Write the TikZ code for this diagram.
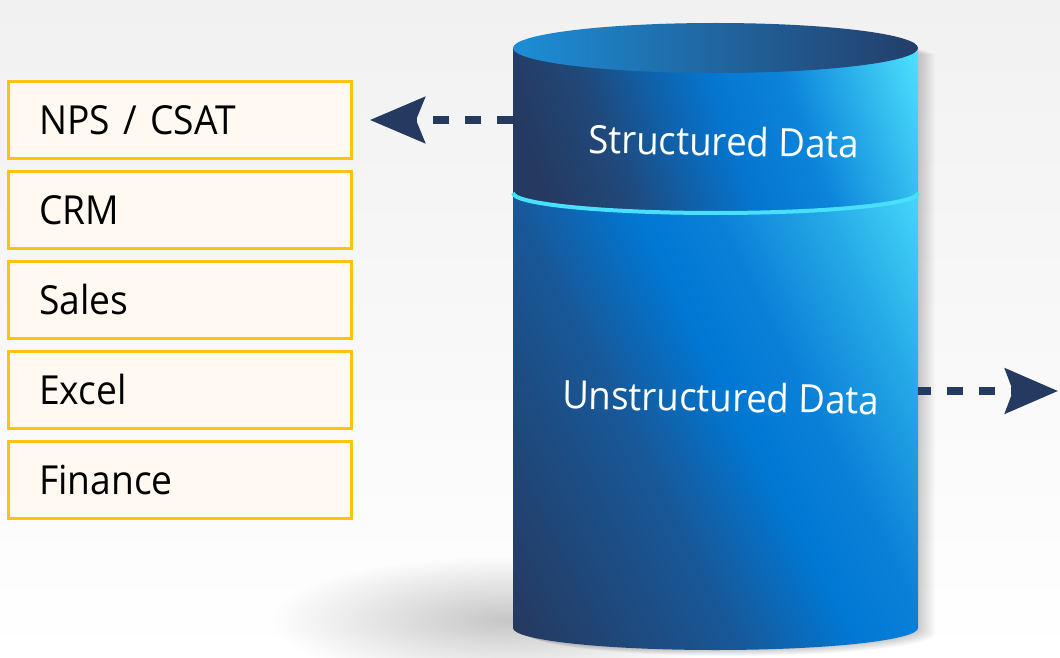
\documentclass[tikz,border=0pt]{standalone}
\usepackage{fontspec}
\setmainfont{Open Sans}
\newfontfamily\boxfont{Open Sans}[FakeStretch=0.93]
\newfontfamily\cylfont{Open Sans}[FakeStretch=0.94]
\usetikzlibrary{arrows.meta,fadings}
\definecolor{navy}{HTML}{253A60}
\definecolor{uA}{HTML}{20487A}
\definecolor{uM}{HTML}{1060A8}
\definecolor{uB}{HTML}{0576D0}
\definecolor{uC}{HTML}{0C84DA}
\definecolor{uD}{HTML}{36C0F0}
\definecolor{cyanl}{HTML}{4DE3FF}
\definecolor{lA}{HTML}{185898}
\definecolor{lB}{HTML}{0078D4}
\definecolor{lC}{HTML}{0B80D8}
\definecolor{lD}{HTML}{25A8E6}
\definecolor{lE}{HTML}{45D8FA}
\definecolor{sepcyan}{HTML}{48E0FF}
\definecolor{topL}{HTML}{1C8ED6}
\definecolor{topM}{HTML}{0A6BBE}
\definecolor{topR}{HTML}{243E6A}
\definecolor{boxline}{HTML}{FFC20E}
\definecolor{boxfill}{HTML}{FFF9F2}
\definecolor{bgtop}{HTML}{F1F1F1}
\pgfdeclarehorizontalshading{cylupper}{100bp}{color(0bp)=(navy); color(36.8bp)=(navy); color(42.1bp)=(uA); color(46.4bp)=(uM); color(50.7bp)=(uB); color(55.7bp)=(uC); color(61.9bp)=(uD); color(65.4bp)=(cyanl); color(100bp)=(cyanl)}
\pgfdeclarehorizontalshading{cyllower}{100bp}{color(0bp)=(navy); color(30.4bp)=(navy); color(43.9bp)=(lA); color(51.4bp)=(lB); color(56.4bp)=(lC); color(63.2bp)=(lD); color(70bp)=(lE); color(100bp)=(lE)}
\tikzfading[name=softshadow, inner color=transparent!0, outer color=transparent!100]
\newcommand\cylshape{(513,-48) -- (513,-628) arc[start angle=180, end angle=360, x radius=202.5, y radius=22] -- (918,-48) -- cycle}
\newcommand\uppershape{(513,-48) -- (513,-193) arc[start angle=180, end angle=360, x radius=202.5, y radius=20] -- (918,-48) -- cycle}
\newcommand\lowershape{(513,-193) arc[start angle=180, end angle=360, x radius=202.5, y radius=20] -- (918,-628) arc[start angle=0, end angle=-180, x radius=202.5, y radius=22] -- cycle}
\tikzset{
  srcbox/.style={draw=boxline, line width=2.6pt, fill=boxfill, anchor=north west,
    minimum height=77pt, text width=281pt, inner xsep=31pt, inner ysep=0pt, align=left,
    text height=29pt, text depth=0pt, font=\boxfont\fontsize{40}{48}\selectfont, text=black},
  cyltext/.style={text=white, font=\cylfont\fontsize{39}{44}\selectfont, inner sep=0pt},
  flowarrow/.style={draw=navy, line width=7.5pt, dash pattern=on 16pt off 16pt},
}
\begin{document}
\begin{tikzpicture}[x=1pt,y=1pt]
\useasboundingbox (0,0) rectangle (1060,-658);
% background
\shade[top color=bgtop, bottom color=white] (0,0) rectangle (1060,-658);
% ground shadow
\fill[black, opacity=0.22, path fading=softshadow] (505,-620) ellipse [x radius=235, y radius=64];
% soft side shadow of the cylinder
\foreach \i in {1,...,10}{
  \begin{scope}[shift={(\i*1.7,-\i*0.6)}]
    \fill[black, opacity=0.02] \cylshape;
  \end{scope}
}
% connector anchors
\coordinate (cylL) at (513,-120);
\coordinate (tipL) at (370,-120);
\coordinate (cylR) at (918,-391);
\coordinate (tipR) at (1058,-391);
% left arrow (from cylinder to sources)
\draw[flowarrow, -{Stealth[length=55pt, width=46pt, inset=9pt]}] (cylL) -- (tipL);
% cylinder: structured section
\begin{scope}
  \clip \uppershape;
  \shade[shading=cylupper, shading angle=20] (365,-470) rectangle (1065,230);
\end{scope}
% cylinder: unstructured section
\begin{scope}
  \clip \lowershape;
  \shade[shading=cyllower, shading angle=27] (365,-760) rectangle (1065,-60);
\end{scope}
% top ellipse
\shade[left color=topL, middle color=topM, right color=topR] (715.5,-48) ellipse [x radius=202.5, y radius=25];
% separator
\draw[sepcyan, line width=4pt] (513,-193) arc[start angle=180, end angle=360, x radius=202.5, y radius=20];
% cylinder labels
\node[cyltext, rotate=-1] (sd) at (724,-141) {Structured Data};
\node[cyltext, rotate=-1] (ud) at (721,-397) {Unstructured Data};
% right arrow
\draw[flowarrow, dash phase=3pt, -{Stealth[length=53pt, width=45pt, inset=8pt]}] (cylR) -- (tipR);
% source boxes
\node[srcbox] (nps) at (7,-80) {NPS / CSAT};
\node[srcbox] (crm) at (7,-170) {CRM};
\node[srcbox] (sales) at (7,-260) {Sales};
\node[srcbox] (excel) at (7,-350) {Excel};
\node[srcbox] (fin) at (7,-440) {Finance};
\end{tikzpicture}
\end{document}
